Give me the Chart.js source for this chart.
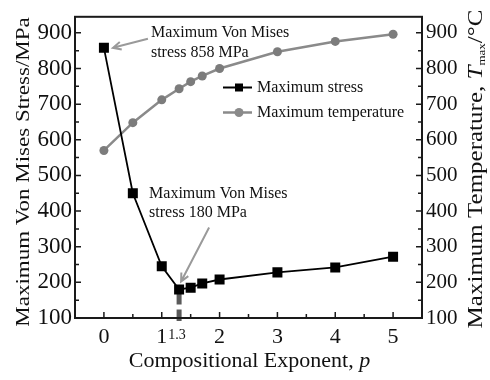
<!DOCTYPE html>
<html>
<head>
<meta charset="utf-8">
<script src="https://cdn.jsdelivr.net/npm/chart.js@4.4.0/dist/chart.umd.min.js"></script>
<style>
  html, body { margin: 0; padding: 0; background: #fff; }
  .preload { font-family: 'Liberation Serif'; position: absolute; left: -999px; top: 0; }
</style>
</head>
<body>
<span class="preload">Maximum <i>p</i></span>
<canvas id="stressChart" width="490" height="380"></canvas>
<script>
// Compositional exponent p and the two responses
const pValues = [0, 0.5, 1, 1.3, 1.5, 1.7, 2, 3, 4, 5];
const stressMPa = [858, 450, 245, 180, 185, 197, 208, 228, 242, 272];
const tempC = [570, 648, 712, 743, 763, 779, 800, 847, 876, 896];

const xTicks = [0, 1, 2, 3, 4, 5];
const xMinorTicks = [0.5, 1.5, 2.5, 3.5, 4.5];
const yTicks = [100, 200, 300, 400, 500, 600, 700, 800, 900];
const yMinorTicks = [150, 250, 350, 450, 550, 650, 750, 850];

const SERIF = "'Liberation Serif', 'Times New Roman', serif";
const stressColor = '#000';
const tempColor = '#8a8a8a';

function toPoints(ys) {
    return pValues.map((p, i) => ({ x: p, y: ys[i] }));
}

function fixTicks(values) {
    return scale => { scale.ticks = values.map(v => ({ value: v })); };
}

function arrow(ctx, x1, y1, x2, y2) {
    const ang = Math.atan2(y2 - y1, x2 - x1);
    const head = 9;
    ctx.beginPath();
    ctx.moveTo(x1, y1);
    ctx.lineTo(x2, y2);
    ctx.moveTo(x2 - head * Math.cos(ang - 0.45), y2 - head * Math.sin(ang - 0.45));
    ctx.lineTo(x2, y2);
    ctx.lineTo(x2 - head * Math.cos(ang + 0.45), y2 - head * Math.sin(ang + 0.45));
    ctx.stroke();
}

// Draws mixed-style text pieces in a row, centred on x = 0 of the current transform
function drawPieces(ctx, pieces) {
    let total = 0;
    pieces.forEach(p => { ctx.font = p.font; total += ctx.measureText(p.text).width; });
    let x = -total / 2;
    pieces.forEach(p => {
        ctx.font = p.font;
        ctx.fillText(p.text, x, p.dy || 0);
        x += ctx.measureText(p.text).width;
    });
}

// dashed marker line at p = 1.3 under the stress minimum
const minimumLine = {
    id: 'minimumLine',
    beforeDatasetsDraw(chart) {
        const { ctx, scales: { x, y }, chartArea } = chart;
        const i = pValues.indexOf(1.3);
        const px = x.getPixelForValue(pValues[i]);
        const py = y.getPixelForValue(stressMPa[i]);
        ctx.save();
        ctx.strokeStyle = '#5a5a5a';
        ctx.lineWidth = 5;
        ctx.setLineDash([13, 5]);
        ctx.beginPath();
        ctx.moveTo(px, py + 2);
        ctx.lineTo(px, chartArea.bottom + 3);
        ctx.stroke();
        ctx.restore();
    }
};

const decorations = {
    id: 'decorations',
    afterDraw(chart) {
        const { ctx, chartArea: a, scales: { x, y, y1 } } = chart;
        ctx.save();

        // frame
        ctx.strokeStyle = '#1a1a1a';
        ctx.lineWidth = 2;
        ctx.strokeRect(a.left, a.top, a.right - a.left, a.bottom - a.top);

        // inward ticks
        ctx.lineWidth = 1.5;
        ctx.beginPath();
        xTicks.forEach(v => { const px = x.getPixelForValue(v); ctx.moveTo(px, a.bottom); ctx.lineTo(px, a.bottom - 6); });
        xMinorTicks.forEach(v => { const px = x.getPixelForValue(v); ctx.moveTo(px, a.bottom); ctx.lineTo(px, a.bottom - 4); });
        yTicks.forEach(v => {
            const py = y.getPixelForValue(v);
            ctx.moveTo(a.left, py); ctx.lineTo(a.left + 6, py);
            const qy = y1.getPixelForValue(v);
            ctx.moveTo(a.right, qy); ctx.lineTo(a.right - 6, qy);
        });
        yMinorTicks.forEach(v => {
            const py = y.getPixelForValue(v);
            ctx.moveTo(a.left, py); ctx.lineTo(a.left + 4, py);
            const qy = y1.getPixelForValue(v);
            ctx.moveTo(a.right, qy); ctx.lineTo(a.right - 4, qy);
        });
        ctx.stroke();

        ctx.fillStyle = '#111';

        // extra tick label at p = 1.3
        ctx.textBaseline = 'middle';
        ctx.font = '14px ' + SERIF;
        ctx.textAlign = 'center';
        ctx.fillText('1.3', x.getPixelForValue(1.3) - 2, a.bottom + 17);

        // axis titles
        ctx.textAlign = 'left';
        ctx.textBaseline = 'alphabetic';
        ctx.save();
        ctx.translate((a.left + a.right) / 2 + 1, 367);
        drawPieces(ctx, [
            { text: 'Compositional Exponent, ', font: '22px ' + SERIF },
            { text: 'p', font: 'italic 22px ' + SERIF }
        ]);
        ctx.restore();

        // rotated titles are set in a condensed face
        ctx.save();
        ctx.translate(29, 172);
        ctx.rotate(-Math.PI / 2);
        ctx.scale(1, 0.78);
        drawPieces(ctx, [{ text: 'Maximum Von Mises Stress/MPa', font: '23px ' + SERIF }]);
        ctx.restore();

        ctx.save();
        ctx.translate(482, 169);
        ctx.rotate(-Math.PI / 2);
        ctx.scale(1, 0.83);
        drawPieces(ctx, [
            { text: 'Maximum Temperature, ', font: '25px ' + SERIF },
            { text: 'T', font: 'italic 25px ' + SERIF },
            { text: 'max', font: '13px ' + SERIF, dy: 4 },
            { text: '/°C', font: '25px ' + SERIF }
        ]);
        ctx.restore();

        // legend
        const legend = [
            { label: 'Maximum stress', color: stressColor, square: true },
            { label: 'Maximum temperature', color: tempColor, square: false }
        ];
        legend.forEach((item, k) => {
            const ly = 87.5 + k * 25;
            ctx.strokeStyle = item.color;
            ctx.fillStyle = item.color;
            ctx.lineWidth = item.square ? 2 : 2.5;
            ctx.beginPath();
            ctx.moveTo(223, ly); ctx.lineTo(252, ly);
            ctx.stroke();
            ctx.beginPath();
            if (item.square) ctx.rect(235, ly - 4, 8, 8);
            else ctx.arc(239, ly, 4.5, 0, Math.PI * 2);
            ctx.fill();
            ctx.fillStyle = '#111';
            ctx.font = '16px ' + SERIF;
            ctx.fillText(item.label, 257, ly + 4.5);
        });

        // annotations on the stress curve
        ctx.strokeStyle = '#9a9a9a';
        ctx.lineWidth = 2;
        ctx.font = '16px ' + SERIF;
        ctx.fillStyle = '#111';

        const iMax = stressMPa.indexOf(Math.max(...stressMPa));
        const mx = x.getPixelForValue(pValues[iMax]);
        const my = y.getPixelForValue(stressMPa[iMax]);
        arrow(ctx, mx + 44, my - 9, mx + 9, my);
        ctx.fillText('Maximum Von Mises', mx + 47, my - 11);
        ctx.fillText('stress ' + stressMPa[iMax] + ' MPa', mx + 47, my + 9);

        const iMin = stressMPa.indexOf(Math.min(...stressMPa));
        const nx = x.getPixelForValue(pValues[iMin]);
        const ny = y.getPixelForValue(stressMPa[iMin]);
        arrow(ctx, nx + 30, ny - 62, nx + 2, ny - 8);
        ctx.fillText('Maximum Von Mises', nx - 30, ny - 91);
        ctx.fillText('stress ' + stressMPa[iMin] + ' MPa', nx - 30, ny - 72);

        ctx.restore();
    }
};

function drawChart() {
    const ctx = document.getElementById('stressChart').getContext('2d');
    return new Chart(ctx, {
        type: 'line',
        data: {
            datasets: [{
                label: 'Maximum stress',
                data: toPoints(stressMPa),
                yAxisID: 'y',
                borderColor: stressColor,
                backgroundColor: stressColor,
                borderWidth: 1.8,
                pointStyle: 'rect',
                pointRadius: 5.8,
                tension: 0
            }, {
                label: 'Maximum temperature',
                data: toPoints(tempC),
                yAxisID: 'y1',
                borderColor: tempColor,
                backgroundColor: '#7c7c7c',
                borderWidth: 2.5,
                pointStyle: 'circle',
                pointRadius: 4.5,
                pointBorderWidth: 0,
                tension: 0
            }]
        },
        options: {
            responsive: false,
            animation: false,
            layout: { padding: { top: 12, left: 0, right: 0, bottom: 0 } },
            plugins: {
                legend: { display: false },
                tooltip: { enabled: false }
            },
            scales: {
                x: {
                    type: 'linear',
                    min: -0.5,
                    max: 5.5,
                    afterBuildTicks: fixTicks(xTicks),
                    afterFit: s => { s.height = 62; },
                    grid: { display: false, drawTicks: false },
                    border: { display: false },
                    ticks: { autoSkip: false, padding: 6, color: '#111', font: { family: SERIF, size: 22 } }
                },
                y: {
                    position: 'left',
                    min: 100,
                    max: 945,
                    afterBuildTicks: fixTicks(yTicks),
                    afterFit: s => { s.width = 75; },
                    grid: { display: false, drawTicks: false },
                    border: { display: false },
                    ticks: { autoSkip: false, padding: 3, color: '#111', font: { family: SERIF, size: 23 } }
                },
                y1: {
                    position: 'right',
                    min: 100,
                    max: 945,
                    afterBuildTicks: fixTicks(yTicks),
                    afterFit: s => { s.width = 68; },
                    grid: { display: false, drawTicks: false },
                    border: { display: false },
                    ticks: { autoSkip: false, padding: 4, color: '#111', font: { family: SERIF, size: 21 } }
                }
            }
        },
        plugins: [minimumLine, decorations]
    });
}

Promise.all([
    document.fonts.load("21px 'Liberation Serif'"),
    document.fonts.load("italic 21px 'Liberation Serif'")
]).then(drawChart, drawChart);
</script>
</body>
</html>
